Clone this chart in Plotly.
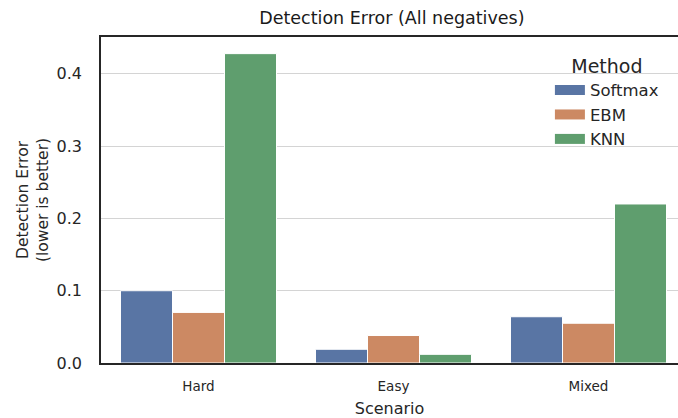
import plotly.graph_objects as go

scenarios = ["Hard", "Easy", "Mixed"]
methods = ["Softmax", "EBM", "KNN"]
softmax = [0.100, 0.019, 0.064]
ebm = [0.070, 0.038, 0.055]
knn = [0.428, 0.012, 0.220]
colors = ["#5975a4", "#cc8963", "#5f9e6e"]

series = [softmax, ebm, knn]
fig = go.Figure()
for name, vals, col in zip(methods, series, colors):
    fig.add_trace(go.Bar(x=scenarios, y=vals, name=name, showlegend=False,
                         marker=dict(color=col, line=dict(color="white", width=1))))
for name, col in zip(methods, colors):
    fig.add_trace(go.Scatter(x=[None], y=[None], mode="lines", name=name,
                             line=dict(color=col, width=10)))

font = "DejaVu Sans"
fig.update_layout(
    width=678, height=418,
    margin=dict(l=101, r=0, t=37, b=55, autoexpand=False),
    paper_bgcolor="white", plot_bgcolor="white",
    barmode="group", bargap=0.2, bargroupgap=0,
    font=dict(family=font, color="#262626"),
    title=dict(text="Detection Error (All negatives)", x=0.578, xanchor="center",
               y=0.958, yanchor="middle", font=dict(size=17.5, color="#1a1a1a")),
    legend=dict(x=0.778, y=0.966, xanchor="left", yanchor="top",
                bgcolor="rgba(0,0,0,0)", font=dict(size=16.5),
                title=dict(text="Method", font=dict(size=19), side="top center"),
                itemwidth=30, tracegroupgap=0),
    xaxis=dict(range=[-0.5, 2.459], showline=True, linecolor="#262626", linewidth=1.6,
               mirror=True, showgrid=False, ticks="outside", ticklen=10,
               tickcolor="rgba(0,0,0,0)", tickfont=dict(size=13.5), automargin=False,
               title=dict(text="Scenario", font=dict(size=16), standoff=10)),
    yaxis=dict(range=[0, 0.451], showline=True, linecolor="#262626", linewidth=1.6,
               showgrid=True, gridcolor="#d4d4d4", gridwidth=1, zeroline=False,
               tickvals=[0, 0.1, 0.2, 0.3, 0.4], ticktext=["0.0", "0.1", "0.2", "0.3", "0.4"],
               tickfont=dict(size=16), ticks="outside", ticklen=14,
               tickcolor="rgba(0,0,0,0)", automargin=False,
               title=dict(text="Detection Error<br>(lower is better)", font=dict(size=15.5), standoff=4)),
)
fig.write_html("out.html", config={"displayModeBar": False},
               post_script="document.body.style.margin='0';")
